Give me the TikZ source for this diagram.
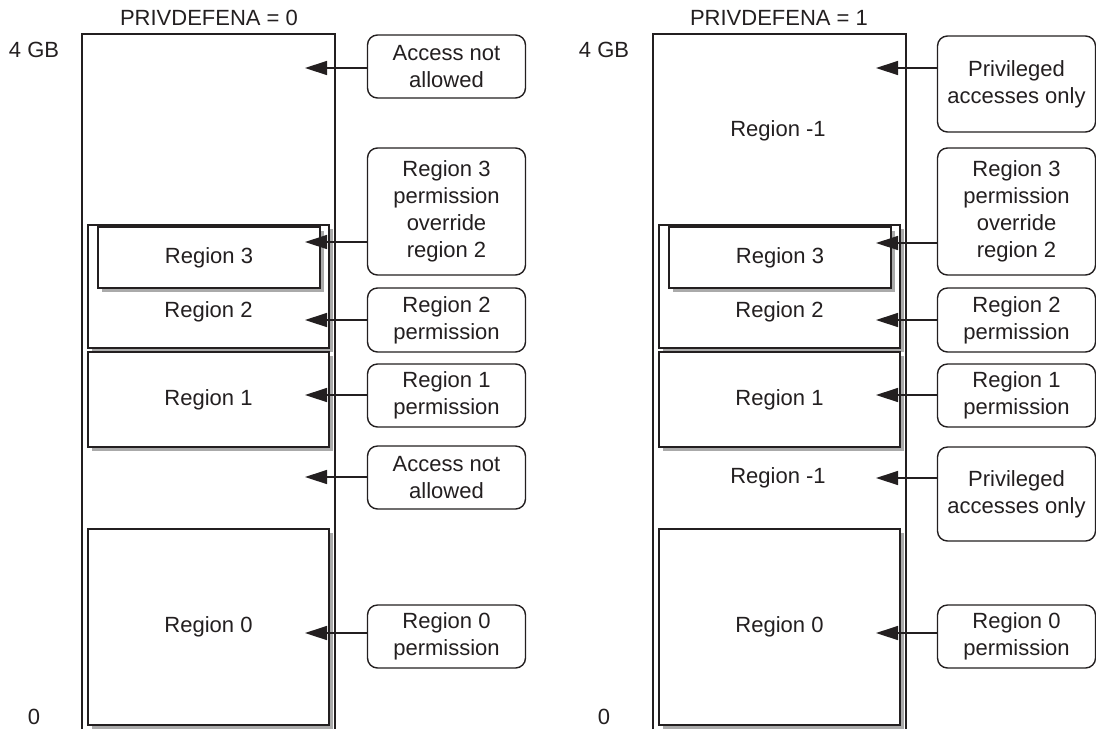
\documentclass[tikz,border=0pt]{standalone}
\usepackage{fontspec}
\setmainfont{Liberation Sans}
\usetikzlibrary{arrows.meta}
\definecolor{inkgray}{RGB}{35,31,32}
\definecolor{shadegray}{RGB}{170,170,170}

\tikzset{
  regbox/.style={draw=inkgray, line width=0.7pt, fill=white, inner sep=0pt,
    minimum width=120.5pt},
  regshadow/.style={fill=shadegray, draw=none},
  callout/.style={draw=inkgray, line width=0.7pt, rounded corners=5pt, fill=white,
    inner sep=0pt, align=center, minimum width=79pt},
  arr/.style={draw=inkgray, line width=0.7pt, -{Triangle[length=11pt,width=7pt]}},
}

\begin{document}
\begin{tikzpicture}[x=0.5pt, y=-0.5pt, text=inkgray, font=\fontsize{11}{13.4}\selectfont]
\useasboundingbox (0,0) rectangle (1096,729);

% PRIVDEFENA = 0
\node (ltitle) at (209,18) {PRIVDEFENA = 0};
\node (ltop) at (34,50) {4 GB};
\node (lbot) at (34,717) {0};
\draw[inkgray, line width=0.7pt] (82,729) -- (82,34) -- (335,34) -- (335,729);

\path[regshadow] (91.5,228.5) rectangle (332.5,351.5);
\node[regbox, minimum height=61.5pt] (lr2) at (208.5,286.5) {};
\node (lr2t) at (208.5,312) {Region 2};
\path[regshadow] (101.5,230.5) rectangle (323.5,291.5);
\node[regbox, minimum width=111pt, minimum height=30.5pt] (lr3) at (209,257.5) {Region 3};
\path[regshadow] (91.5,355.5) rectangle (332.5,450.5);
\node[regbox, minimum height=47.5pt] (lr1) at (208.5,399.5) {Region 1};
\path[regshadow] (91.5,532.5) rectangle (332.5,728.5);
\node[regbox, minimum height=98pt] (lr0) at (208.5,627) {Region 0};

\node[callout, minimum height=31.5pt] (lc1) at (446.5,66.5) {Access not\\allowed};
\node[callout, minimum height=63.5pt] (lc2) at (446.5,211.5) {Region 3\\permission\\override\\region 2};
\node[callout, minimum height=32pt] (lc3) at (446.5,320) {Region 2\\permission};
\node[callout, minimum height=31.5pt] (lc4) at (446.5,395.5) {Region 1\\permission};
\node[callout, minimum height=31.5pt] (lc5) at (446.5,477.5) {Access not\\allowed};
\node[callout, minimum height=31.5pt] (lc6) at (446.5,636.5) {Region 0\\permission};

\coordinate (la1) at (305,68);
\coordinate (la2) at (305,242);
\coordinate (la3) at (305,320);
\coordinate (la4) at (305,395);
\coordinate (la5) at (305,477);
\coordinate (la6) at (305,633);
\draw[arr] (lc1.west |- la1) -- (la1);
\draw[arr] (lc2.west |- la2) -- (la2);
\draw[arr] (lc3.west |- la3) -- (la3);
\draw[arr] (lc4.west |- la4) -- (la4);
\draw[arr] (lc5.west |- la5) -- (la5);
\draw[arr] (lc6.west |- la6) -- (la6);

% PRIVDEFENA = 1
\node (rtitle) at (779,18) {PRIVDEFENA = 1};
\node (rtop) at (604,50) {4 GB};
\node (rbot) at (604,717) {0};
\draw[inkgray, line width=0.7pt] (653,729) -- (653,34) -- (906,34) -- (906,729);

\node (rm1a) at (778,131) {Region -1};
\path[regshadow] (662.5,228.5) rectangle (903.5,351.5);
\node[regbox, minimum height=61.5pt] (rr2) at (779.5,286.5) {};
\node (rr2t) at (779.5,312) {Region 2};
\path[regshadow] (672.5,230.5) rectangle (894.5,291.5);
\node[regbox, minimum width=111pt, minimum height=30.5pt] (rr3) at (780,257.5) {Region 3};
\path[regshadow] (662.5,355.5) rectangle (903.5,450.5);
\node[regbox, minimum height=47.5pt] (rr1) at (779.5,399.5) {Region 1};
\node (rm1b) at (778,478) {Region -1};
\path[regshadow] (662.5,532.5) rectangle (903.5,728.5);
\node[regbox, minimum height=98pt] (rr0) at (779.5,627) {Region 0};

\node[callout, minimum height=48pt] (rc1) at (1016.5,84) {Privileged\\accesses only};
\node[callout, minimum height=63.5pt] (rc2) at (1016.5,211.5) {Region 3\\permission\\override\\region 2};
\node[callout, minimum height=32pt] (rc3) at (1016.5,320) {Region 2\\permission};
\node[callout, minimum height=31.5pt] (rc4) at (1016.5,395.5) {Region 1\\permission};
\node[callout, minimum height=47pt] (rc5) at (1016.5,494) {Privileged\\accesses only};
\node[callout, minimum height=31.5pt] (rc6) at (1016.5,636.5) {Region 0\\permission};

\coordinate (ra1) at (876,68);
\coordinate (ra2) at (876,243);
\coordinate (ra3) at (876,320);
\coordinate (ra4) at (876,395);
\coordinate (ra5) at (876,478);
\coordinate (ra6) at (876,633);
\draw[arr] (rc1.west |- ra1) -- (ra1);
\draw[arr] (rc2.west |- ra2) -- (ra2);
\draw[arr] (rc3.west |- ra3) -- (ra3);
\draw[arr] (rc4.west |- ra4) -- (ra4);
\draw[arr] (rc5.west |- ra5) -- (ra5);
\draw[arr] (rc6.west |- ra6) -- (ra6);
\end{tikzpicture}
\end{document}
